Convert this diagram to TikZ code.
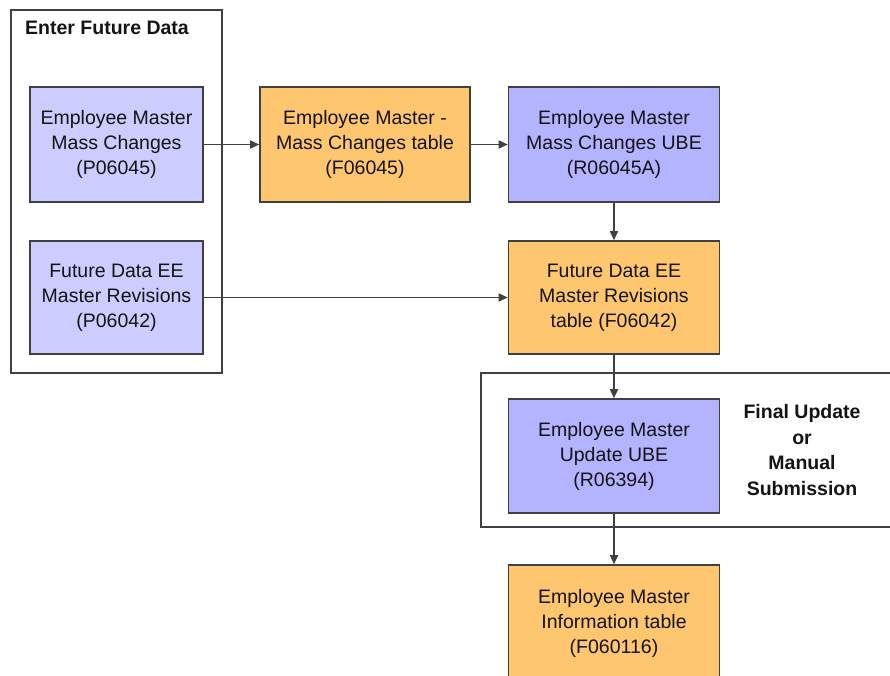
\documentclass[tikz,border=0pt]{standalone}
\usepackage{fontspec}
\setmainfont{Liberation Sans}
\usetikzlibrary{arrows.meta}
\definecolor{lav}{RGB}{204,204,255}
\definecolor{ube}{RGB}{179,179,255}
\definecolor{org}{RGB}{255,198,112}
\definecolor{edge}{RGB}{64,64,64}
\definecolor{txt}{RGB}{20,20,20}
\begin{document}
\begin{tikzpicture}[x=1pt,y=-1pt,
  box/.style={draw=edge,line width=1.6pt,rectangle,inner sep=0pt,align=center,
    text=txt,font=\fontsize{19.5}{25}\selectfont},
  progbox/.style={box,fill=lav},
  ubebox/.style={box,fill=ube},
  tablebox/.style={box,fill=org},
  frame/.style={draw=edge,line width=1.4pt},
  lbl/.style={text=txt,font=\bfseries\fontsize{19.5}{25.5}\selectfont,align=center,inner sep=0pt},
  conn/.style={draw=edge,line width=1.6pt,-{Triangle[length=9pt,width=8pt]}}]
\useasboundingbox (0,0) rectangle (890,675);
\clip (0,0) rectangle (890,675);
\fill[white] (0,0) rectangle (890,675);
% frames
\draw[frame] (11,10) rectangle (222,373);
\node[lbl,anchor=west] (t1) at (25,28) {Enter Future Data};
\draw[frame] (481,373) rectangle (900,527);
\node[lbl] (t2) at (802,450) {Final Update\\or\\Manual\\Submission};
% boxes
\node[progbox,minimum width=173pt,minimum height=115pt] (b1) at (116.5,144.5) {Employee Master\\Mass Changes\\(P06045)};
\node[tablebox,minimum width=210pt,minimum height=115pt] (b2) at (365,144.5) {Employee Master -\\Mass Changes table\\(F06045)};
\node[ubebox,minimum width=211pt,minimum height=115pt] (b3) at (614,144.5) {Employee Master\\Mass Changes UBE\\(R06045A)};
\node[progbox,minimum width=173pt,minimum height=113pt] (b4) at (116.5,297.5) {Future Data EE\\Master Revisions\\(P06042)};
\node[tablebox,minimum width=211pt,minimum height=113pt] (b5) at (614,297.5) {Future Data EE\\Master Revisions\\table (F06042)};
\node[ubebox,minimum width=211pt,minimum height=114pt] (b6) at (614,456) {Employee Master\\Update UBE\\(R06394)};
\node[tablebox,minimum width=211pt,minimum height=116pt] (b7) at (614,623) {Employee Master\\Information table\\(F060116)};
% connectors
\draw[conn] (b1.east) -- (b2.west);
\draw[conn] (b2.east) -- (b3.west);
\draw[conn] (b3.south) -- (b5.north);
\draw[conn] (b4.east) -- (b5.west);
\draw[conn] (b5.south) -- (b6.north);
\draw[conn] (b6.south) -- (b7.north);
\end{tikzpicture}
\end{document}
